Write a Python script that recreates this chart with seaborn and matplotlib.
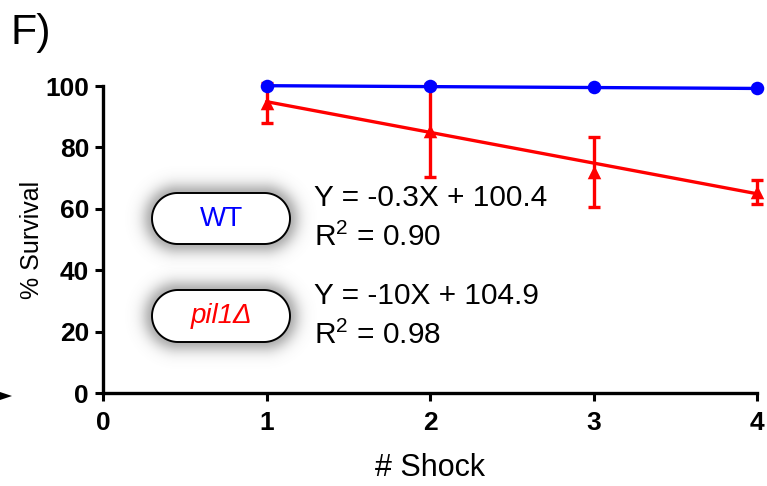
import numpy as np
import pandas as pd
import matplotlib
matplotlib.use("Agg")
import matplotlib.pyplot as plt
from matplotlib.patches import Polygon
import seaborn as sns

# ---- data -------------------------------------------------------------
shocks = [1, 2, 3, 4]
wt_survival = [100.0, 100.0, 99.6, 99.3]
pil1_survival = [94.5, 85.5, 72.0, 65.5]
pil1_err = [6.5, 15.0, 11.4, 4.0]

# linear fits (slope, intercept, R^2) as reported on the figure
wt_fit = [-0.3, 100.4, 0.90]
pil1_fit = [-10.0, 104.9, 0.98]

strain_labels = ["WT", "pil1\u0394"]
x_ticks = [0, 1, 2, 3, 4]
y_ticks = [0, 20, 40, 60, 80, 100]

BLUE = "#0000ff"
RED = "#ff0000"

sns.set_theme(style="ticks")
plt.rcParams["font.family"] = ["Liberation Sans", "DejaVu Sans"]
plt.rcParams["mathtext.fontset"] = "custom"
plt.rcParams["mathtext.rm"] = "Liberation Sans"
plt.rcParams["mathtext.it"] = "Liberation Sans:italic"
for key in ["text.color", "axes.labelcolor", "xtick.color", "ytick.color",
            "xtick.labelcolor", "ytick.labelcolor", "axes.edgecolor"]:
    plt.rcParams[key] = "black"

W, H = 767, 486
fig = plt.figure(figsize=(W / 100, H / 100), dpi=100)
ax = fig.add_axes([103 / W, 1 - 393 / H, (757 - 103) / W, (393 - 86) / H])

pts = pd.DataFrame({
    "shock": shocks * 2,
    "survival": wt_survival + pil1_survival,
    "strain": ["WT"] * 4 + ["pil1"] * 4,
})

# regression lines from the reported equations
fit_x = np.array([shocks[0], shocks[-1]], dtype=float)
fits = pd.DataFrame({
    "shock": np.concatenate([fit_x, fit_x]),
    "survival": np.concatenate([pil1_fit[0] * fit_x + pil1_fit[1],
                                wt_fit[0] * fit_x + wt_fit[1]]),
    "strain": ["pil1"] * 2 + ["WT"] * 2,
})

# pil1 mutant: error bars, triangles and fitted line
ax.errorbar(shocks, pil1_survival, yerr=pil1_err, fmt="none", ecolor=RED,
            elinewidth=2.4, capsize=4.5, capthick=2.4, zorder=3, clip_on=False)
sns.lineplot(data=fits[fits.strain == "pil1"], x="shock", y="survival",
             color=RED, linewidth=2.4, ax=ax, zorder=4, legend=False)
sns.scatterplot(data=pts[pts.strain == "pil1"], x="shock", y="survival",
                color=RED, marker="^", s=95, linewidth=0, ax=ax, zorder=5,
                legend=False)

# wild type: fitted line and circles
sns.lineplot(data=fits[fits.strain == "WT"], x="shock", y="survival",
             color=BLUE, linewidth=2.4, ax=ax, zorder=6, legend=False)
sns.scatterplot(data=pts[pts.strain == "WT"], x="shock", y="survival",
                color=BLUE, marker="o", s=95, linewidth=0, ax=ax, zorder=7,
                legend=False)
for c in ax.collections:
    c.set_clip_on(False)
for ln in ax.lines:
    ln.set_clip_on(False)

ax.set_xlim(0, 4)
ax.set_ylim(0, 100)
ax.set_xticks(x_ticks)
ax.set_yticks(y_ticks)
ax.set_xticklabels([str(v) for v in x_ticks], fontsize=19, fontweight="bold",
                   color="black")
ax.set_yticklabels([str(v) for v in y_ticks], fontsize=19, fontweight="bold",
                   color="black")
ax.tick_params(axis="both", direction="out", width=2.2, length=6, color="black")
ax.tick_params(axis="x", pad=7)
ax.tick_params(axis="y", pad=4)
ax.set_xlabel("# Shock", fontsize=22, labelpad=13, color="black")
ax.set_ylabel("% Survival", fontsize=18, labelpad=1, color="black")
for side in ["left", "bottom"]:
    ax.spines[side].set_linewidth(2.4)
    ax.spines[side].set_color("black")
sns.despine(ax=ax)
ax.patch.set_alpha(0)

# ---- overlay in pixel coordinates for panel letter and strain tags ----
ov = fig.add_axes([0, 0, 1, 1], zorder=10)
ov.set_xlim(0, W)
ov.set_ylim(H, 0)
ov.axis("off")
ov.patch.set_alpha(0)

ov.text(11, 33, "F)", fontsize=31, ha="left", va="center", color="black")
ov.add_patch(Polygon([[0, 392], [12, 396], [0, 400]], closed=True,
                     color="black", lw=0))


def stadium(cx, cy, w, h, n=60):
    r = h / 2
    x1, x2 = cx - w / 2 + r, cx + w / 2 - r
    a = np.linspace(-np.pi / 2, np.pi / 2, n)
    right = np.column_stack([x2 + r * np.cos(a), cy + r * np.sin(a)])
    left = np.column_stack([x1 - r * np.cos(a), cy - r * np.sin(a)])
    return np.vstack([right, left])


def pill(cx, cy, w, h, label, color, italic=False):
    r = h / 2
    # soft grey halo around the tag
    yy, xx = np.mgrid[0:H, 0:W] + 0.5
    x1, x2 = cx - w / 2 + r, cx + w / 2 - r
    px = np.clip(xx, x1, x2)
    d = np.hypot(xx - px, yy - cy) - r
    alpha = np.where(d > -2, 0.6 * np.exp(-(np.clip(d, 0, None) / 10.5) ** 1.7), 0.0)
    img = np.zeros((H, W, 4))
    img[..., :3] = 0.5
    img[..., 3] = alpha
    ov.imshow(img, extent=(0, W, H, 0), interpolation="bilinear", zorder=1)
    ov.add_patch(Polygon(stadium(cx, cy, w, h), closed=True, facecolor="white",
                         edgecolor="black", lw=1.4, zorder=2))
    ov.text(cx, cy, label, fontsize=20, color=color, ha="center",
            va="center", style="italic" if italic else "normal", zorder=3)


pill(221, 218.5, 138, 51, strain_labels[0], BLUE)
pill(221, 316, 138, 52, strain_labels[1], RED, italic=True)

ov.set_xlim(0, W)
ov.set_ylim(H, 0)


def eq_text(fit):
    sign = "+" if fit[1] >= 0 else "-"
    return f"Y = {fit[0]:g}X {sign} {abs(fit[1]):.1f}", f"R$^2$ = {fit[2]:.2f}"


for fit, y1, y2 in [(wt_fit, 198, 237), (pil1_fit, 296, 335)]:
    l1, l2 = eq_text(fit)
    ov.text(314, y1, l1, fontsize=21.5, ha="left", va="center", color="black")
    ov.text(314, y2, l2, fontsize=21.5, ha="left", va="center", color="black")

fig.savefig("out.png", dpi=100)
